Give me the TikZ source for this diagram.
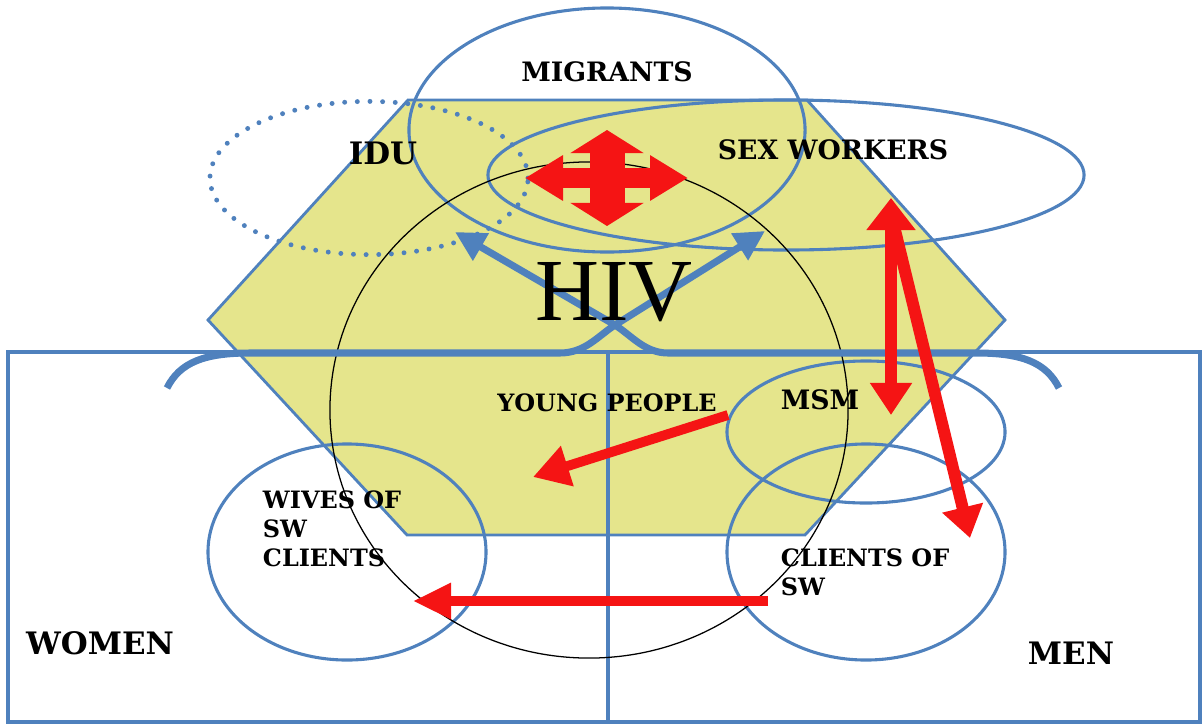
\documentclass[tikz,border=0pt]{standalone}
\usepackage{fontspec}
\setmainfont{DejaVu Serif}
\newfontfamily\hivfont{Liberation Serif}
\usepackage{tikz}
\usetikzlibrary{shapes.geometric,arrows.meta,positioning}
\definecolor{hivblue}{RGB}{79,129,189}
\definecolor{hivyellow}{RGB}{229,229,140}
\definecolor{hivred}{RGB}{245,20,20}

\begin{document}
\begin{tikzpicture}[x=0.025cm,y=-0.025cm]
	\tikzset{group oval/.style={draw=hivblue,ellipse,line width=2.2pt,inner sep=0pt},
		big label/.style={font=\fontsize{#1}{22}\selectfont\bfseries},
		big label/.default=19,
		small label/.style={font=\fontsize{17}{20.5}\selectfont\bfseries,align=left},
		red arrow/.style={draw=hivred,line width=#1},
		brace arm/.style={draw=hivblue,line width=5pt,-{Triangle[length=0.75cm,width=0.75cm]}}}
	\useasboundingbox (0,0) rectangle (1202,724);
	\filldraw [fill=hivyellow,draw=hivblue,line width=2pt] (208,320) -- (408,100) -- (807,100) -- (1005,320) -- (805,535) -- (407,535) -- cycle;
	\draw [hivblue,line width=2.2pt] (8,352) rectangle (1200,722);
	\draw [hivblue,line width=2.5pt] (608,352) -- (608,724);
	\node [group oval, minimum width=9.9cm, minimum height=6.1cm] (migrants) at (607,130) {};
	\node [group oval, minimum width=14.9cm, minimum height=3.75cm] (sexworkers) at (786,175) {};
	\node [group oval, line width=3.5pt, line cap=round, dash pattern=on 0pt off 9pt, minimum width=7.95cm, minimum height=3.83cm] (idu) at (369,178) {};
	\node [group oval, minimum width=6.95cm, minimum height=3.55cm] (msm) at (866,432) {};
	\node [group oval, minimum width=6.95cm, minimum height=5.4cm] (clients) at (866,552) {};
	\node [group oval, minimum width=6.95cm, minimum height=5.4cm] (wives) at (347,552) {};
	\node [draw, ellipse, line width=0.9pt, inner sep=0pt, minimum width=12.95cm, minimum height=12.4cm] (hivring) at (589,410) {};
	\coordinate (bracel) at (167,388);
	\coordinate (bracer) at (1059,388);
	\coordinate (idutip) at (455,232);
	\coordinate (swbtip) at (765,231);
	\draw [brace arm] (bracel) .. controls (180,362) and (205,353) .. (250,353) -- (560,353) .. controls (585,353) and (598,336) .. (615,325) -- (swbtip);
	\draw [brace arm] (bracer) .. controls (1046,362) and (1021,353) .. (976,353) -- (668,353) .. controls (645,353) and (632,336) .. (615,325) -- (idutip);
	\coordinate (crossW) at (525,178);
	\coordinate (crossE) at (688,178);
	\coordinate (crossN) at (607,130);
	\coordinate (crossS) at (607,226);
	\draw [red arrow=14.9pt, {Triangle[length=0.95cm,width=1.075cm]}-{Triangle[length=0.95cm,width=1.075cm]}] (crossW) -- (crossE);
	\draw [red arrow=24.9pt, {Triangle[length=0.575cm,width=1.8cm]}-{Triangle[length=0.575cm,width=1.8cm]}] (crossN) -- (crossS);
	\coordinate (swtip) at (891,198);
	\coordinate (swfoot) at (893,222);
	\coordinate (msmtip) at (891,415);
	\coordinate (clitip) at (970,538);
	\coordinate (ypstart) at (728,415);
	\coordinate (yptip) at (533,477);
	\coordinate (clistart) at (768,601);
	\coordinate (wivtip) at (413,601);
	\draw [red arrow=8.5pt, -{Triangle[length=0.78cm,width=1cm]}] (swfoot) -- (clitip);
	\draw [red arrow=8.5pt, {Triangle[length=0.8cm,width=1.18cm]}-{Triangle[length=0.8cm,width=1cm]}] (swtip) -- (msmtip);
	\draw [red arrow=7pt, -{Triangle[length=0.9cm,width=1cm]}] (ypstart) -- (yptip);
	\draw [red arrow=6.5pt, -{Triangle[length=0.95cm,width=0.85cm]}] (clistart) -- (wivtip);
	\node [big label] (migrantslbl) at (607,72) {MIGRANTS};
	\node [big label=22] (idulbl) at (383,153) {IDU};
	\node [big label] (swlbl) at (833,150) {SEX WORKERS};
	\node [font=\hivfont\fontsize{63}{63}\selectfont] (hivlbl) at (614,292) {HIV};
	\node [small label] (yplbl) at (607,403) {YOUNG PEOPLE};
	\node [big label] (msmlbl) at (820,400) {MSM};
	\node [small label, anchor=west] (wiveslbl) at (258,529) {WIVES OF\\SW\\CLIENTS};
	\node [small label, anchor=west] (clientslbl) at (776,572) {CLIENTS OF\\SW};
	\node [big label=22] (womenlbl) at (100,643) {WOMEN};
	\node [big label=22] (menlbl) at (1071,653) {MEN};
\end{tikzpicture}
\end{document}
